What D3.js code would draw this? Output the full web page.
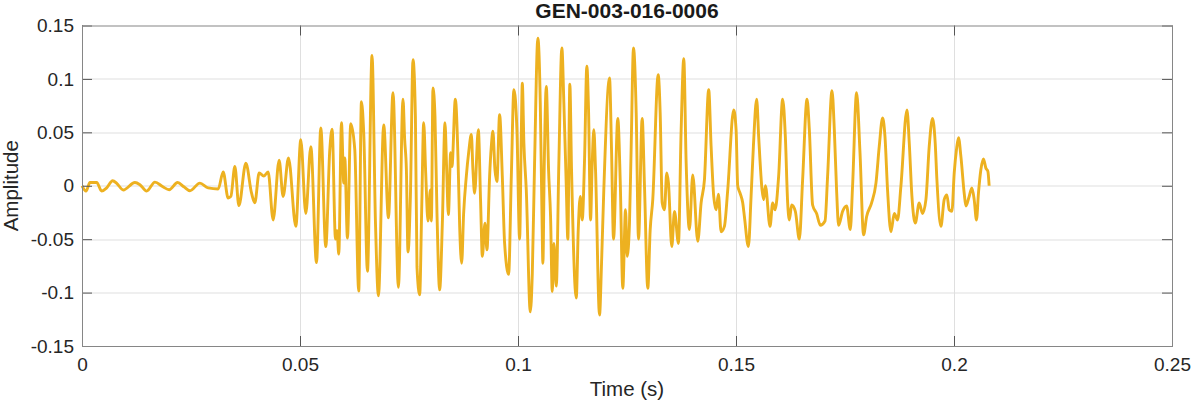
<!DOCTYPE html>
<html>
<head>
<meta charset="utf-8">
<script src="https://cdn.jsdelivr.net/npm/d3@7"></script>
<style>
  html, body { margin: 0; padding: 0; background: #fff; }
  svg { display: block; font-family: "Liberation Sans", Arial, Helvetica, sans-serif; }
</style>
</head>
<body>
<div id="chart"></div>
<script>
var title = "GEN-003-016-0006";
var xLabel = "Time (s)";
var yLabel = "Amplitude";

var xTicks = [0, 0.05, 0.1, 0.15, 0.2, 0.25];
var xTickLabels = ["0", "0.05", "0.1", "0.15", "0.2", "0.25"];
var yTicks = [-0.15, -0.1, -0.05, 0, 0.05, 0.1, 0.15];
var yTickLabels = ["-0.15", "-0.1", "-0.05", "0", "0.05", "0.1", "0.15"];

// waveform vertices (seconds)
var time = [
  0.00000, 0.00092, 0.00183, 0.00337, 0.00451, 0.00566, 0.00703, 0.00802, 0.00946, 0.01214,
  0.01329, 0.01483, 0.01673, 0.01856, 0.02000, 0.02193, 0.02337, 0.02475, 0.02704, 0.02894,
  0.03123, 0.03238, 0.03352, 0.03414, 0.03506, 0.03598, 0.03758, 0.03889, 0.03964, 0.04063,
  0.04170, 0.04269, 0.04384, 0.04521, 0.04613, 0.04736, 0.04904, 0.05018, 0.05133, 0.05248,
  0.05378, 0.05477, 0.05591, 0.05683, 0.05736, 0.05814, 0.05850, 0.05889, 0.05951, 0.06004,
  0.06027, 0.06088, 0.06164, 0.06256, 0.06347, 0.06409, 0.06462, 0.06547, 0.06652, 0.06730,
  0.06799, 0.06920, 0.07028, 0.07133, 0.07257, 0.07362, 0.07401, 0.07440, 0.07477, 0.07532,
  0.07592, 0.07647, 0.07683, 0.07745, 0.07791, 0.07837, 0.07883, 0.07935, 0.07990, 0.08013,
  0.08050, 0.08096, 0.08142, 0.08203, 0.08265, 0.08325, 0.08364, 0.08403, 0.08456, 0.08485,
  0.08563, 0.08623, 0.08662, 0.08708, 0.08753, 0.08815, 0.08868, 0.08930, 0.08966, 0.09005,
  0.09090, 0.09143, 0.09182, 0.09242, 0.09288, 0.09349, 0.09388, 0.09425, 0.09471, 0.09517,
  0.09578, 0.09640, 0.09693, 0.09785, 0.09847, 0.09906, 0.09975, 0.10037, 0.10076, 0.10099,
  0.10135, 0.10190, 0.10282, 0.10328, 0.10380, 0.10456, 0.10511, 0.10548, 0.10571, 0.10603,
  0.10649, 0.10701, 0.10747, 0.10786, 0.10823, 0.10878, 0.10937, 0.11006, 0.11052, 0.11107,
  0.11143, 0.11189, 0.11228, 0.11336, 0.11382, 0.11428, 0.11473, 0.11526, 0.11579, 0.11618,
  0.11664, 0.11702, 0.11739, 0.11778, 0.11870, 0.11916, 0.11968, 0.12099, 0.12145, 0.12191,
  0.12289, 0.12344, 0.12404, 0.12466, 0.12504, 0.12557, 0.12596, 0.12649, 0.12711, 0.12764,
  0.12848, 0.12901, 0.12977, 0.13032, 0.13091, 0.13215, 0.13261, 0.13307, 0.13359, 0.13412,
  0.13451, 0.13527, 0.13589, 0.13680, 0.13742, 0.13802, 0.13857, 0.13932, 0.14008, 0.14123,
  0.14200, 0.14276, 0.14374, 0.14429, 0.14489, 0.14544, 0.14597, 0.14658, 0.14734, 0.14810,
  0.14947, 0.15002, 0.15039, 0.15094, 0.15154, 0.15193, 0.15284, 0.15346, 0.15399, 0.15474,
  0.15520, 0.15598, 0.15635, 0.15674, 0.15781, 0.15841, 0.15896, 0.15978, 0.16070, 0.16132,
  0.16185, 0.16224, 0.16276, 0.16361, 0.16453, 0.16528, 0.16629, 0.16682, 0.16757, 0.16849,
  0.16934, 0.17042, 0.17101, 0.17202, 0.17255, 0.17307, 0.17353, 0.17445, 0.17537, 0.17621,
  0.17674, 0.17766, 0.17844, 0.17926, 0.17995, 0.18110, 0.18210, 0.18286, 0.18362, 0.18417,
  0.18476, 0.18554, 0.18630, 0.18705, 0.18783, 0.18921, 0.18974, 0.19035, 0.19111, 0.19203,
  0.19278, 0.19356, 0.19432, 0.19507, 0.19569, 0.19608, 0.19700, 0.19775, 0.19837, 0.19890,
  0.19952, 0.20005, 0.20057, 0.20103, 0.20158, 0.20234, 0.20273, 0.20348, 0.20410, 0.20463,
  0.20516, 0.20561, 0.20616, 0.20676, 0.20731, 0.20777, 0.20806
];

var amplitude = [
  0.0000, -0.0050, 0.0030, 0.0030, -0.0050, -0.0020, 0.0047, 0.0020, -0.0040, 0.0030,
  0.0010, -0.0050, 0.0034, -0.0010, -0.0037, 0.0030, -0.0010, -0.0047, 0.0025, -0.0020,
  -0.0030, 0.0130, -0.0115, -0.0100, 0.0180, -0.0186, 0.0210, -0.0070, -0.0160, 0.0120,
  0.0090, 0.0130, -0.0320, 0.0240, -0.0100, 0.0260, -0.0380, 0.0430, -0.0260, 0.0366,
  -0.0720, 0.0540, -0.0570, 0.0335, 0.0530, -0.0500, -0.0420, -0.0640, 0.0590, 0.0025,
  0.0260, -0.0490, 0.0580, 0.0340, -0.0985, 0.0786, 0.0490, -0.0800, 0.1220, -0.0330,
  -0.1030, 0.0570, -0.0300, 0.0870, -0.0950, 0.0810, 0.0430, 0.0150, -0.0620, -0.0100,
  0.1180, 0.0650, -0.0760, -0.1020, -0.0225, 0.0590, 0.0120, -0.0330, -0.0040, -0.0330,
  0.0916, 0.0650, -0.0260, -0.0975, -0.0350, 0.0590, 0.0150, -0.0270, 0.0310, 0.0180,
  0.0810, 0.0275, -0.0380, -0.0725, -0.0260, 0.0090, 0.0310, 0.0480, 0.0150, -0.0070,
  0.0525, -0.0160, -0.0660, -0.0350, -0.0600, 0.0090, 0.0370, 0.0510, 0.0150, 0.0040,
  0.0666, 0.0090, -0.0540, -0.0830, 0.0090, 0.0900, 0.0525, -0.0500, 0.0490, 0.0960,
  0.0400, -0.0040, -0.1180, -0.0820, 0.0210, 0.1380, 0.0775, -0.0225, -0.0725, 0.0210,
  0.0930, 0.0150, -0.0290, -0.0990, -0.0540, -0.0940, 0.0210, 0.1290, 0.0775, 0.0000,
  -0.0500, 0.0950, 0.0150, -0.1050, -0.0410, -0.0100, -0.0320, 0.0240, 0.1120, 0.0710,
  -0.0320, 0.0210, 0.0525, 0.0150, -0.1210, -0.0725, -0.0040, 0.1010, 0.0340, -0.0500,
  0.0630, 0.0056, -0.0960, -0.0225, -0.0660, -0.0350, 0.0370, 0.1290, 0.0680, -0.0500,
  0.0630, 0.0000, -0.0960, -0.0410, -0.0130, 0.1040, 0.0680, -0.0160, -0.0225, 0.0120,
  0.0025, -0.0570, -0.0240, -0.0540, 0.0525, 0.1190, 0.0210, -0.0410, 0.0100, -0.0520,
  -0.0160, 0.0056, 0.0900, 0.0370, -0.0100, -0.0225, -0.0080, -0.0430, -0.0380, -0.0040,
  0.0710, 0.0525, 0.0000, -0.0070, -0.0160, -0.0290, -0.0570, -0.0100, 0.0370, 0.0810,
  0.0460, -0.0040, -0.0130, 0.0000, -0.0380, -0.0160, -0.0225, 0.0090, 0.0810, 0.0460,
  -0.0160, -0.0320, -0.0180, -0.0240, -0.0500, 0.0056, 0.0810, 0.0525, -0.0180, -0.0260,
  -0.0370, -0.0330, 0.0090, 0.0890, 0.0525, -0.0040, -0.0370, -0.0240, -0.0190, -0.0410,
  0.0000, 0.0870, 0.0310, -0.0460, -0.0290, -0.0160, 0.0025, 0.0370, 0.0634, 0.0460,
  -0.0040, -0.0430, -0.0260, -0.0320, 0.0000, 0.0710, 0.0400, -0.0100, -0.0350, -0.0160,
  -0.0260, -0.0130, 0.0370, 0.0630, 0.0400, 0.0056, -0.0380, -0.0130, -0.0085, -0.0225,
  -0.0240, 0.0120, 0.0340, 0.0450, 0.0275, -0.0070, -0.0190, -0.0100, -0.0020, -0.0130,
  -0.0320, -0.0070, 0.0150, 0.0250, 0.0165, 0.0134, 0.0000
];

var width = 1193, height = 404;
var margin = {top: 25.5, right: 21, bottom: 58, left: 82};
var plotW = width - margin.left - margin.right;
var plotH = height - margin.top - margin.bottom;

var data = time.map((t, i) => ({t: t, a: amplitude[i]}));

var x = d3.scaleLinear().domain([0, 0.25]).range([0, plotW]);
var y = d3.scaleLinear().domain([-0.15, 0.15]).range([plotH, 0]);

var svg = d3.select("#chart").append("svg")
    .attr("width", width)
    .attr("height", height);

var g = svg.append("g")
    .attr("transform", `translate(${margin.left},${margin.top})`);

// grid
g.append("g")
  .attr("stroke", "#dfdfdf")
  .attr("stroke-width", 1)
  .selectAll("line.gx")
  .data(xTicks.slice(1, -1))
  .join("line")
  .attr("x1", d => Math.round(x(d)) + 0.5)
  .attr("x2", d => Math.round(x(d)) + 0.5)
  .attr("y1", 0)
  .attr("y2", plotH);

g.append("g")
  .attr("stroke", "#dfdfdf")
  .attr("stroke-width", 1)
  .selectAll("line.gy")
  .data(yTicks.slice(1, -1))
  .join("line")
  .attr("x1", 0)
  .attr("x2", plotW)
  .attr("y1", d => Math.round(y(d)) + 0.5)
  .attr("y2", d => Math.round(y(d)) + 0.5);

// waveform
var line = d3.line()
  .x(d => x(d.t))
  .y(d => y(d.a))
  .curve(d3.curveMonotoneX);

g.append("path")
  .datum(data)
  .attr("fill", "none")
  .attr("stroke", "#EDB120")
  .attr("stroke-width", 2.9)
  .attr("stroke-linejoin", "round")
  .attr("d", line);

// axes, ticks pointing inward
fmtX = d => xTickLabels[xTicks.indexOf(d)];
fmtY = d => yTickLabels[yTicks.indexOf(d)];

var styleAxis = sel => {
  sel.select(".domain").remove();
  sel.selectAll(".tick line").attr("stroke", "#555");
  sel.selectAll(".tick text")
    .attr("fill", "#262626")
    .style("font-size", "19px");
};

g.append("g")
  .attr("transform", `translate(0,${plotH})`)
  .call(d3.axisBottom(x).tickValues(xTicks).tickFormat(fmtX).tickSize(-10).tickPadding(12))
  .call(styleAxis);

g.append("g")
  .call(d3.axisLeft(y).tickValues(yTicks).tickFormat(fmtY).tickSize(-10).tickPadding(8))
  .call(styleAxis);

g.append("g")
  .call(d3.axisTop(x).tickValues(xTicks).tickFormat("").tickSize(-10))
  .call(styleAxis);

g.append("g")
  .attr("transform", `translate(${plotW},0)`)
  .call(d3.axisRight(y).tickValues(yTicks).tickFormat("").tickSize(-10))
  .call(styleAxis);

// box
g.append("rect")
  .attr("x", 0.5)
  .attr("y", 0.5)
  .attr("width", plotW)
  .attr("height", plotH)
  .attr("fill", "none")
  .attr("stroke", "#868686")
  .attr("stroke-width", 1);

// labels
svg.append("text")
  .attr("x", margin.left + plotW / 2)
  .attr("y", 18)
  .attr("text-anchor", "middle")
  .style("font-size", "21px")
  .style("font-weight", "bold")
  .attr("fill", "#1a1a1a")
  .text(title);

svg.append("text")
  .attr("x", margin.left + plotW / 2)
  .attr("y", 396)
  .attr("text-anchor", "middle")
  .style("font-size", "20.5px")
  .attr("fill", "#262626")
  .text(xLabel);

svg.append("text")
  .attr("transform", `translate(18,${margin.top + plotH / 2}) rotate(-90)`)
  .attr("text-anchor", "middle")
  .style("font-size", "20.5px")
  .attr("fill", "#262626")
  .text(yLabel);
</script>
</body>
</html>
